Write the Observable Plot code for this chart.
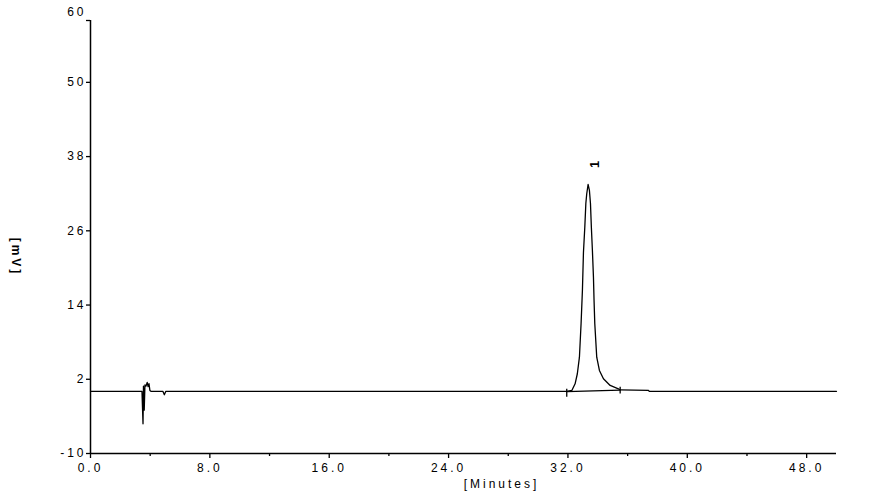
<!DOCTYPE html>
<html><head><meta charset="utf-8">
<script src="https://cdn.jsdelivr.net/npm/d3@7"></script>
<script src="https://cdn.jsdelivr.net/npm/@observablehq/plot@0.6"></script>
<style>body{margin:0;background:#fff;}</style>
</head><body><div id="chart"></div>
<script>
// Chromatogram trace (minutes, mV)
const timeMin = [0, 3.45, 3.52, 3.55, 3.6, 3.65, 3.72, 3.8, 3.86, 3.92, 3.98, 4.05, 4.85, 4.95, 5.05,
  31.9, 32.26, 32.48, 32.63, 32.77, 32.88, 32.97, 33.04, 33.13, 33.2, 33.26, 33.35, 33.44, 33.51, 33.57,
  33.64, 33.71, 33.75, 33.8, 33.93, 34.11, 34.38, 34.83, 35.38, 35.5, 37.4, 37.45, 50];
const signalMV = [0.05, 0.05, -5.2, 0.9, -3.0, 1.1, 0.9, 1.5, 0.8, 1.3, 0.2, 0.05, 0.05, -0.5, 0.05,
  0.05, 0.19, 1.27, 2.89, 5.57, 10.97, 16.35, 22.54, 26.59, 30.42, 31.99, 33.49, 32.52, 30.42, 26.59,
  22.82, 18.5, 14.74, 10.97, 5.57, 3.42, 2.08, 1.0, 0.46, 0.27, 0.2, 0.05, 0.05];

// Integration markers for peak 1
const integrationTimes = [31.92, 35.5];
const integrationBase = [0.0, 0.25];
const markerLow = [-0.9, -0.4];
const markerHigh = [0.4, 0.7];

const peakLabels = ["1"];
const peakLabelTime = [33.82];
const peakLabelMV = [37.0];

const xTicks = [0, 8, 16, 24, 32, 40, 48];
const xMinorTicks = [4, 12, 20, 28, 36, 44];
const yTicks = [-10, 2, 14, 26, 38, 50];
const yTopTick = [60];
const xLabel = "[Minutes]";
const yLabel = "[mV]";

const chart = Plot.plot({
  width: 875,
  height: 502,
  marginLeft: 90,
  marginRight: 39,
  marginTop: 20,
  marginBottom: 49,
  x: {domain: [0, 50]},
  y: {domain: [-10, 60]},
  style: {fontFamily: "'Liberation Sans', Arial, sans-serif", fontSize: "12px", letterSpacing: "3px", color: "#000", background: "#fff"},
  marks: [
    Plot.axisX(xTicks, {tickSize: 5, tickPadding: 5, tickFormat: d => d.toFixed(1), label: null, fill: "#000", strokeWidth: 1.3}),
    Plot.axisX(xMinorTicks, {tickSize: 3, tickFormat: () => "", label: null, strokeWidth: 1.3}),
    Plot.axisY(yTicks, {tickSize: 4, tickPadding: 0, tickFormat: d => String(d), label: null, fill: "#000", strokeWidth: 1.3}),
    Plot.axisY(yTopTick, {tickSize: 4, tickFormat: () => "", label: null, strokeWidth: 1.3}),
    Plot.text(yTopTick, {y: d => d, frameAnchor: "left", dx: -4, dy: -8, textAnchor: "end", lineAnchor: "middle", text: d => String(d), fill: "#000"}),
    Plot.ruleX([0], {stroke: "black", strokeWidth: 1.5}),
    Plot.ruleY([-10], {stroke: "black", strokeWidth: 1.5}),
    Plot.line(integrationTimes, {x: integrationTimes, y: integrationBase, stroke: "black", strokeWidth: 1.2}),
    Plot.ruleX(integrationTimes, {x: integrationTimes, y1: markerLow, y2: markerHigh, stroke: "black", strokeWidth: 1.3}),
    Plot.line(timeMin, {x: timeMin, y: signalMV, stroke: "black", strokeWidth: 1.3, curve: "linear"}),
    Plot.text(peakLabels, {x: peakLabelTime, y: peakLabelMV, text: d => d, rotate: -90, fontWeight: "bold", fontSize: 13}),
    Plot.text([yLabel], {frameAnchor: "left", dx: -75, dy: 20, rotate: 90, textAnchor: "middle", lineAnchor: "middle", fontWeight: "bold", text: d => d}),
    Plot.text([xLabel], {frameAnchor: "bottom", dx: 38, dy: 31, textAnchor: "middle", lineAnchor: "middle", text: d => d})
  ]
});
document.getElementById("chart").appendChild(chart);
</script>
</body></html>
